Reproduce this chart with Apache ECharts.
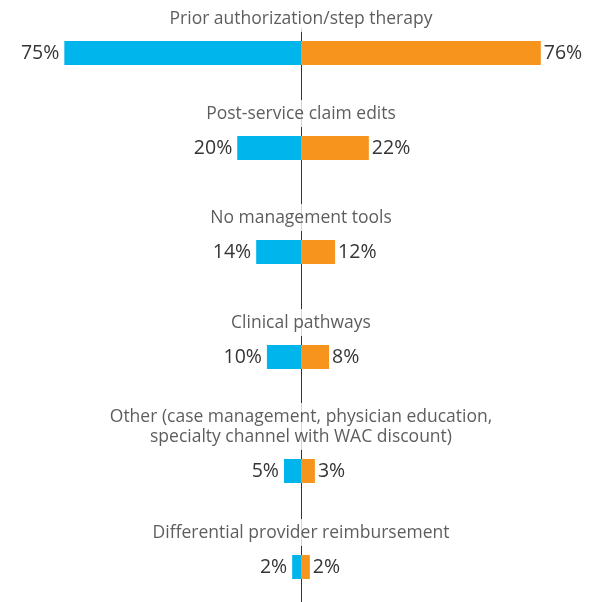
<!DOCTYPE html>
<html>
<head>
<meta charset="utf-8">
<script src="https://cdn.jsdelivr.net/npm/echarts@6/dist/echarts.min.js"></script>
<style>html,body{margin:0;padding:0;background:#fff;}#c{width:600px;height:602px;}</style>
</head>
<body>
<div id="c"></div>
<script>
var categories = [
  "Prior authorization/step therapy",
  "Post-service claim edits",
  "No management tools",
  "Clinical pathways",
  "Other (case management, physician education,\nspecialty channel with WAC discount)",
  "Differential provider reimbursement"
];
// bar lengths as drawn in the picture
var blueValues = [75, 20.2, 14.2, 10.8, 5.4, 2.8];
var orangeValues = [76, 21.5, 10.8, 8.9, 4.4, 2.8];
// printed labels
var blueLabels = ["75%", "20%", "14%", "10%", "5%", "2%"];
var orangeLabels = ["76%", "22%", "12%", "8%", "3%", "2%"];

// layout: vertical centre of each row (px)
var rowCentres = [53, 148, 252, 357, 471, 567];

var FONT = "'Open Sans', sans-serif";
var TXT = '#353535';

var grids = [{left: 17, right: 15, top: 28, bottom: 0, outerBoundsMode: 'none'}];
var xAxes = [{gridIndex: 0, type: 'value', min: -90, max: 90, show: false}];
var yAxes = [{
  gridIndex: 0, type: 'category', data: [''],
  axisLabel: {show: false}, axisTick: {show: false},
  axisLine: {show: true, onZero: true, lineStyle: {color: '#333', width: 1}}
}];
var series = [];

categories.forEach(function (cat, i) {
  var g = i + 1;
  grids.push({left: 17, right: 15, top: rowCentres[i] - 20, height: 40, outerBoundsMode: 'none'});
  xAxes.push({gridIndex: g, type: 'value', min: -90, max: 90, show: false});
  yAxes.push({gridIndex: g, type: 'category', data: [cat], show: false});
  series.push({
    type: 'bar', xAxisIndex: g, yAxisIndex: g, barWidth: 24, barGap: '-100%', z: 3,
    data: [-blueValues[i]],
    itemStyle: {color: '#00B5EC'},
    label: {show: true, position: 'left', distance: 5, color: TXT,
      fontFamily: FONT, fontSize: 19.5, formatter: blueLabels[i]}
  });
  series.push({
    type: 'bar', xAxisIndex: g, yAxisIndex: g, barWidth: 24, barGap: '-100%', z: 3,
    data: [orangeValues[i]],
    itemStyle: {color: '#F7941E'},
    label: {show: true, position: 'right', distance: 3, color: TXT,
      fontFamily: FONT, fontSize: 19.5, formatter: orangeLabels[i]}
  });
  series.push({
    type: 'scatter', xAxisIndex: g, yAxisIndex: g, symbolSize: 0, silent: true, z: 5,
    data: [[0, cat]],
    label: {show: true, position: 'top', distance: 21,
      color: TXT, fontFamily: FONT, fontSize: 17.5, lineHeight: 20,
      align: 'center', backgroundColor: '#fff', padding: [4, 4, 3, 4],
      formatter: function (p) { return p.value[1]; }}
  });
});

var chart = echarts.init(document.getElementById('c'), null, {renderer: 'canvas'});
chart.setOption({
  animation: false,
  backgroundColor: '#fff',
  grid: grids,
  xAxis: xAxes,
  yAxis: yAxes,
  series: series
});
</script>
</body>
</html>
